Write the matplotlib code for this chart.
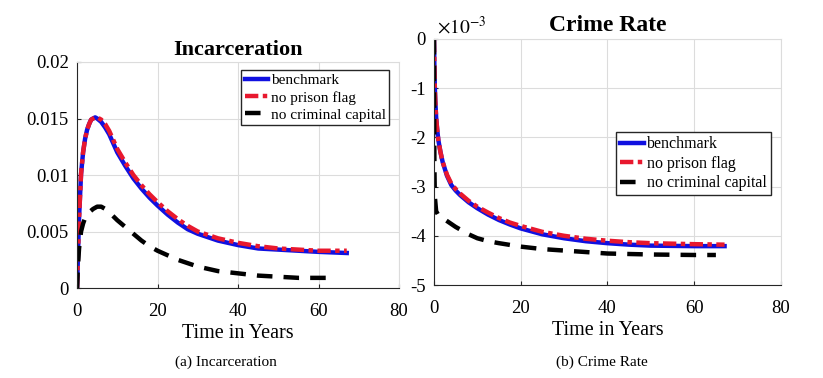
import numpy as np
import matplotlib
matplotlib.use("Agg")
import matplotlib.pyplot as plt

plt.rcParams['font.family'] = ['Liberation Serif', 'DejaVu Serif']
plt.rcParams['mathtext.fontset'] = 'stix'

# Incarceration
t_inc = [0, 0.2, 0.5, 1, 1.5, 2, 2.5, 3, 3.5, 4, 4.5, 5, 6, 7, 8, 9, 10, 12, 14, 16, 18, 20, 22.5, 25, 27.5, 30,
         35, 40, 45, 50, 55, 60, 67]
inc_bench = [0, 0.0025, 0.0062, 0.0101, 0.0120, 0.0132, 0.0140, 0.0145, 0.0149, 0.0150, 0.0151, 0.0150, 0.0147,
             0.0142, 0.0136, 0.0128, 0.0120, 0.0108, 0.0097, 0.0088, 0.0080, 0.0073, 0.0065, 0.0058, 0.0052, 0.0048,
             0.0042, 0.0038, 0.0035, 0.0034, 0.0033, 0.0032, 0.0031]
inc_noflag = [0, 0.0025, 0.0062, 0.0101, 0.0120, 0.0132, 0.0140, 0.0145, 0.0149, 0.0150, 0.0151, 0.0151, 0.0149,
              0.0145, 0.0139, 0.0131, 0.0123, 0.0111, 0.0100, 0.0091, 0.0083, 0.0076, 0.0068, 0.0061, 0.0055, 0.0050,
              0.0044, 0.0040, 0.0037, 0.0035, 0.0034, 0.0033, 0.0033]
t_inc_cc = [0, 0.2, 0.5, 1, 1.5, 2, 3, 4, 5, 6, 7, 8, 10, 12, 14, 16, 18, 20, 22.5, 25, 27.5, 30, 35, 40, 45, 50,
            55, 60, 64.5]
inc_nocap = [0, 0.0018, 0.0035, 0.0050, 0.0057, 0.0062, 0.0067, 0.0070, 0.0072, 0.0072, 0.0070, 0.0067, 0.0060,
             0.0054, 0.0048, 0.0042, 0.0037, 0.0033, 0.0029, 0.0025, 0.0022, 0.0019, 0.0015, 0.0013, 0.0011, 0.0010,
             0.0009, 0.0009, 0.0009]

# Crime rate, in units of 1e-3
t_cr = [0, 0.05, 0.1, 0.2, 0.3, 0.5, 0.75, 1, 1.5, 2, 3, 4, 5, 6, 8, 10, 12.5, 15, 17.5, 20, 25, 30, 35, 40, 45,
        50, 60, 67]
cr_bench = [0, -0.3, -0.6, -1.0, -1.25, -1.6, -1.85, -2.05, -2.3, -2.5, -2.78, -2.97, -3.08, -3.17, -3.32, -3.44,
            -3.57, -3.68, -3.77, -3.85, -3.97, -4.05, -4.11, -4.15, -4.18, -4.20, -4.21, -4.21]
cr_noflag = [0, -0.3, -0.6, -1.0, -1.25, -1.6, -1.85, -2.05, -2.3, -2.5, -2.76, -2.94, -3.05, -3.14, -3.29, -3.41,
             -3.53, -3.64, -3.73, -3.80, -3.92, -4.00, -4.06, -4.10, -4.13, -4.15, -4.17, -4.18]
t_cr_cc = [0, 0.05, 0.1, 0.2, 0.5, 1, 2, 3, 4, 5, 6, 7.5, 10, 12.5, 15, 20, 25, 30, 35, 40, 50, 60, 65]
cr_nocap = [0, -1.5, -2.6, -3.2, -3.5, -3.58, -3.64, -3.70, -3.76, -3.82, -3.87, -3.95, -4.05, -4.11, -4.15, -4.22,
            -4.27, -4.30, -4.33, -4.36, -4.38, -4.39, -4.39]

labels = ['benchmark', 'no prison flag', 'no criminal capital']


def style(ax):
    ax.set_xlim(0, 80)
    ax.set_xticks([0, 20, 40, 60, 80])
    ax.grid(True, color='#dcdcdc', linewidth=0.8)
    ax.set_axisbelow(True)
    for s in ['top', 'right']:
        ax.spines[s].set_color('#dcdcdc')
    for s in ['left', 'bottom']:
        ax.spines[s].set_color('#262626')
    ax.tick_params(direction='in', labelsize=13.5, length=3, color='#262626', top=False, right=False)
    ax.tick_params(axis='x', pad=11)
    ax.tick_params(axis='y', pad=6)
    ax.set_xlabel('Time in Years', fontsize=14.5, labelpad=3)


fig = plt.figure(figsize=(8.23, 3.78), dpi=100)
ax1 = fig.add_axes([0.0936, 0.238, 0.3913, 0.598])
ax2 = fig.add_axes([0.5273, 0.246, 0.4216, 0.651])

ax1.plot(t_inc, inc_bench, color='#1010e0', lw=3.2, label=labels[0])
ax1.plot(t_inc, inc_noflag, color='#e8182e', lw=3.2, ls=(0, (3, 1, 1, 1)), label=labels[1])
ax1.plot(t_inc_cc, inc_nocap, color='black', lw=3.2, ls=(0, (3.5, 2.5)), label=labels[2])
ax1.set_ylim(0, 0.02)
ax1.set_yticks([0, 0.005, 0.01, 0.015, 0.02])
ax1.set_yticklabels(['0', '0.005', '0.01', '0.015', '0.02'])
style(ax1)
ax1.set_title('Incarceration', fontsize=16, fontweight='bold', pad=5)
ax1.legend(loc='upper right', bbox_to_anchor=(0.97, 0.965), fontsize=11, fancybox=False, edgecolor='#262626',
           framealpha=1, handlelength=1.5, handletextpad=0.2, borderpad=0.25, labelspacing=0.22,
           borderaxespad=0.0)

ax2.plot(t_cr, cr_bench, color='#1010e0', lw=3.2, label=labels[0])
ax2.plot(t_cr, cr_noflag, color='#e8182e', lw=3.2, ls=(0, (3, 1, 1, 1)), label=labels[1])
ax2.plot(t_cr_cc, cr_nocap, color='black', lw=3.2, ls=(0, (3.5, 2.5)), label=labels[2])
ax2.set_ylim(-5, 0)
ax2.set_yticks([-5, -4, -3, -2, -1, 0])
ax2.set_yticklabels(['-5', '-4', '-3', '-2', '-1', '0'])
style(ax2)
ax2.set_title('Crime Rate', fontsize=17, fontweight='bold', pad=6)
ax2.text(0.008, 1.005, r'$\times 10^{-3}$', transform=ax2.transAxes, fontsize=14, va='bottom', ha='left')
ax2.legend(loc='upper right', bbox_to_anchor=(0.971, 0.62), fontsize=11.5, fancybox=False, edgecolor='#262626',
           framealpha=1, handlelength=1.5, handletextpad=0.2, borderpad=0.25, labelspacing=0.22,
           borderaxespad=0.0)

fig.text(0.2746, 0.042, '(a) Incarceration', ha='center', va='center', fontsize=11)
fig.text(0.7315, 0.042, '(b) Crime Rate', ha='center', va='center', fontsize=11)

fig.savefig('out.png', dpi=100)
